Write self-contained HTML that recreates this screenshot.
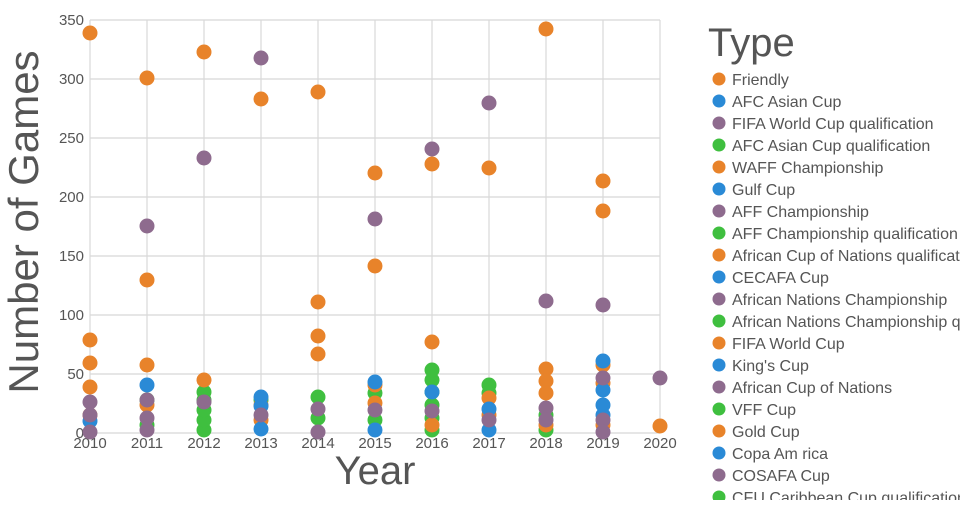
<!DOCTYPE html>
<html><head><meta charset="utf-8"><style>
body{margin:0;background:#fff;width:960px;height:500px;overflow:hidden;font-family:"Liberation Sans",sans-serif}
svg text{font-family:"Liberation Sans",sans-serif;fill:#555}
</style></head><body>
<svg width="960" height="500" xmlns="http://www.w3.org/2000/svg">
<g stroke="#d8d8d8" stroke-width="1.2">
<line x1="90" y1="433" x2="660" y2="433"/><line x1="90" y1="374" x2="660" y2="374"/><line x1="90" y1="315" x2="660" y2="315"/><line x1="90" y1="256" x2="660" y2="256"/><line x1="90" y1="197" x2="660" y2="197"/><line x1="90" y1="138" x2="660" y2="138"/><line x1="90" y1="79" x2="660" y2="79"/><line x1="90" y1="20" x2="660" y2="20"/>
<line x1="90" y1="20" x2="90" y2="433"/><line x1="147" y1="20" x2="147" y2="433"/><line x1="204" y1="20" x2="204" y2="433"/><line x1="261" y1="20" x2="261" y2="433"/><line x1="318" y1="20" x2="318" y2="433"/><line x1="375" y1="20" x2="375" y2="433"/><line x1="432" y1="20" x2="432" y2="433"/><line x1="489" y1="20" x2="489" y2="433"/><line x1="546" y1="20" x2="546" y2="433"/><line x1="603" y1="20" x2="603" y2="433"/><line x1="660" y1="20" x2="660" y2="433"/>
</g>
<g font-size="15" text-anchor="end">
<text x="84" y="438">0</text><text x="84" y="379">50</text><text x="84" y="320">100</text><text x="84" y="261">150</text><text x="84" y="202">200</text><text x="84" y="143">250</text><text x="84" y="84">300</text><text x="84" y="25">350</text>
</g>
<g font-size="15" text-anchor="middle">
<text x="90" y="448">2010</text><text x="147" y="448">2011</text><text x="204" y="448">2012</text><text x="261" y="448">2013</text><text x="318" y="448">2014</text><text x="375" y="448">2015</text><text x="432" y="448">2016</text><text x="489" y="448">2017</text><text x="546" y="448">2018</text><text x="603" y="448">2019</text><text x="660" y="448">2020</text>
</g>
<text x="375" y="484" font-size="40" text-anchor="middle">Year</text>
<text transform="translate(38,222) rotate(-90)" font-size="42" text-anchor="middle">Number of Games</text>
<g>
<g fill="#3fbf3f">
<circle cx="147" cy="425" r="7.5"/><circle cx="147" cy="400" r="7.5"/>
<circle cx="204" cy="430" r="7.5"/><circle cx="204" cy="420" r="7.5"/><circle cx="204" cy="410" r="7.5"/><circle cx="204" cy="400" r="7.5"/><circle cx="204" cy="392" r="7.5"/>
<circle cx="261" cy="400" r="7.5"/><circle cx="318" cy="397" r="7.5"/><circle cx="318" cy="418" r="7.5"/>
<circle cx="375" cy="393" r="7.5"/><circle cx="375" cy="420" r="7.5"/>
<circle cx="432" cy="430" r="7.5"/><circle cx="432" cy="418" r="7.5"/><circle cx="432" cy="405" r="7.5"/><circle cx="432" cy="392" r="7.5"/><circle cx="432" cy="380" r="7.5"/><circle cx="432" cy="370" r="7.5"/>
<circle cx="489" cy="385" r="7.5"/><circle cx="489" cy="393" r="7.5"/>
<circle cx="546" cy="430" r="7.5"/><circle cx="546" cy="415" r="7.5"/>
</g>
<g fill="#e8832a">
<circle cx="90" cy="33" r="7.5"/><circle cx="90" cy="340" r="7.5"/><circle cx="90" cy="363" r="7.5"/><circle cx="90" cy="387" r="7.5"/><circle cx="90" cy="415" r="7.5"/>
<circle cx="147" cy="78" r="7.5"/><circle cx="147" cy="280" r="7.5"/><circle cx="147" cy="365" r="7.5"/><circle cx="147" cy="405" r="7.5"/>
<circle cx="204" cy="52" r="7.5"/><circle cx="204" cy="380" r="7.5"/>
<circle cx="261" cy="99" r="7.5"/><circle cx="261" cy="405" r="7.5"/><circle cx="261" cy="420" r="7.5"/>
<circle cx="318" cy="92" r="7.5"/><circle cx="318" cy="302" r="7.5"/><circle cx="318" cy="336" r="7.5"/><circle cx="318" cy="354" r="7.5"/>
<circle cx="375" cy="173" r="7.5"/><circle cx="375" cy="266" r="7.5"/><circle cx="375" cy="385" r="7.5"/><circle cx="375" cy="403" r="7.5"/>
<circle cx="432" cy="164" r="7.5"/><circle cx="432" cy="342" r="7.5"/><circle cx="432" cy="425" r="7.5"/>
<circle cx="489" cy="168" r="7.5"/><circle cx="489" cy="398" r="7.5"/><circle cx="489" cy="415" r="7.5"/>
<circle cx="546" cy="29" r="7.5"/><circle cx="546" cy="369" r="7.5"/><circle cx="546" cy="381" r="7.5"/><circle cx="546" cy="393" r="7.5"/><circle cx="546" cy="425" r="7.5"/>
<circle cx="603" cy="181" r="7.5"/><circle cx="603" cy="211" r="7.5"/><circle cx="603" cy="365" r="7.5"/><circle cx="603" cy="383" r="7.5"/><circle cx="603" cy="425" r="7.5"/>
<circle cx="660" cy="426" r="7.5"/>
</g>
<g fill="#2a8ad6">
<circle cx="90" cy="421" r="7.5"/><circle cx="147" cy="385" r="7.5"/>
<circle cx="261" cy="397" r="7.5"/><circle cx="261" cy="406" r="7.5"/><circle cx="261" cy="429" r="7.5"/>
<circle cx="375" cy="382" r="7.5"/><circle cx="375" cy="430" r="7.5"/><circle cx="432" cy="392" r="7.5"/>
<circle cx="489" cy="409" r="7.5"/><circle cx="489" cy="430" r="7.5"/>
<circle cx="603" cy="361" r="7.5"/><circle cx="603" cy="390" r="7.5"/><circle cx="603" cy="405" r="7.5"/><circle cx="603" cy="415" r="7.5"/>
</g>
<g fill="#8e6b8e">
<circle cx="90" cy="402" r="7.5"/><circle cx="90" cy="415" r="7.5"/><circle cx="90" cy="432" r="7.5"/>
<circle cx="147" cy="226" r="7.5"/><circle cx="147" cy="400" r="7.5"/><circle cx="147" cy="418" r="7.5"/><circle cx="147" cy="430" r="7.5"/>
<circle cx="204" cy="158" r="7.5"/><circle cx="204" cy="402" r="7.5"/>
<circle cx="261" cy="58" r="7.5"/><circle cx="261" cy="415" r="7.5"/>
<circle cx="318" cy="409" r="7.5"/><circle cx="318" cy="432" r="7.5"/>
<circle cx="375" cy="219" r="7.5"/><circle cx="375" cy="410" r="7.5"/>
<circle cx="432" cy="149" r="7.5"/><circle cx="432" cy="411" r="7.5"/>
<circle cx="489" cy="103" r="7.5"/><circle cx="489" cy="420" r="7.5"/>
<circle cx="546" cy="301" r="7.5"/><circle cx="546" cy="408" r="7.5"/><circle cx="546" cy="420" r="7.5"/>
<circle cx="603" cy="305" r="7.5"/><circle cx="603" cy="378" r="7.5"/><circle cx="603" cy="420" r="7.5"/><circle cx="603" cy="432" r="7.5"/>
<circle cx="660" cy="378" r="7.5"/>
</g>
</g>
<text x="708" y="56" font-size="40">Type</text>
<g font-size="16">
<circle cx="719" cy="79" r="6.5" fill="#e8832a"/><text x="732" y="85">Friendly</text>
<circle cx="719" cy="101" r="6.5" fill="#2a8ad6"/><text x="732" y="107">AFC Asian Cup</text>
<circle cx="719" cy="123" r="6.5" fill="#8e6b8e"/><text x="732" y="129">FIFA World Cup qualification</text>
<circle cx="719" cy="145" r="6.5" fill="#3fbf3f"/><text x="732" y="151">AFC Asian Cup qualification</text>
<circle cx="719" cy="167" r="6.5" fill="#e8832a"/><text x="732" y="173">WAFF Championship</text>
<circle cx="719" cy="189" r="6.5" fill="#2a8ad6"/><text x="732" y="195">Gulf Cup</text>
<circle cx="719" cy="211" r="6.5" fill="#8e6b8e"/><text x="732" y="217">AFF Championship</text>
<circle cx="719" cy="233" r="6.5" fill="#3fbf3f"/><text x="732" y="239">AFF Championship qualification</text>
<circle cx="719" cy="255" r="6.5" fill="#e8832a"/><text x="732" y="261">African Cup of Nations qualification</text>
<circle cx="719" cy="277" r="6.5" fill="#2a8ad6"/><text x="732" y="283">CECAFA Cup</text>
<circle cx="719" cy="299" r="6.5" fill="#8e6b8e"/><text x="732" y="305">African Nations Championship</text>
<circle cx="719" cy="321" r="6.5" fill="#3fbf3f"/><text x="732" y="327">African Nations Championship qualification</text>
<circle cx="719" cy="343" r="6.5" fill="#e8832a"/><text x="732" y="349">FIFA World Cup</text>
<circle cx="719" cy="365" r="6.5" fill="#2a8ad6"/><text x="732" y="371">King's Cup</text>
<circle cx="719" cy="387" r="6.5" fill="#8e6b8e"/><text x="732" y="393">African Cup of Nations</text>
<circle cx="719" cy="409" r="6.5" fill="#3fbf3f"/><text x="732" y="415">VFF Cup</text>
<circle cx="719" cy="431" r="6.5" fill="#e8832a"/><text x="732" y="437">Gold Cup</text>
<circle cx="719" cy="453" r="6.5" fill="#2a8ad6"/><text x="732" y="459">Copa Am  rica</text>
<circle cx="719" cy="475" r="6.5" fill="#8e6b8e"/><text x="732" y="481">COSAFA Cup</text>
<circle cx="719" cy="497" r="6.5" fill="#3fbf3f"/><text x="732" y="503">CFU Caribbean Cup qualification</text>
</g>
</svg>
</body></html>
